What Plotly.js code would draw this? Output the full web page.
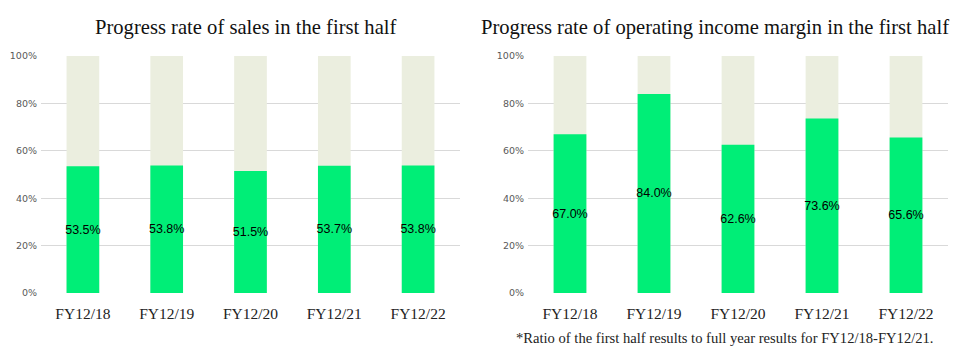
<!DOCTYPE html>
<html><head><meta charset="utf-8">
<script src="https://cdn.plot.ly/plotly-3.0.1.min.js"></script>
<style>html,body{margin:0;padding:0;background:#fff}#c{width:957px;height:355px}</style>
</head><body><div id="c"></div>
<script>
const categories = ['FY12/18','FY12/19','FY12/20','FY12/21','FY12/22'];
const salesRate = [0.535, 0.538, 0.515, 0.537, 0.538];
const incomeRate = [0.670, 0.840, 0.626, 0.736, 0.656];
const fullRate = [1, 1, 1, 1, 1];
const titleLeft = 'Progress rate of sales in the first half';
const titleRight = 'Progress rate of operating income margin in the first half';
const footnote = '*Ratio of the first half results to full year results for FY12/18-FY12/21.';

const GREEN = '#00EE77', BEIGE = '#EBEEDF';
function bg(xa, ya){return {type:'bar',x:categories,y:fullRate,xaxis:xa,yaxis:ya,marker:{color:BEIGE},width:0.39,hoverinfo:'skip',showlegend:false};}
function fg(vals, xa, ya){return {type:'bar',x:categories,y:vals,xaxis:xa,yaxis:ya,marker:{color:GREEN},width:0.39,
  texttemplate:'%{y:.1%}',textposition:'inside',insidetextanchor:'middle',textangle:0,constraintext:'none',
  textfont:{family:'Liberation Sans, Arial, sans-serif',size:12.5,color:'#000'},showlegend:false};}

const yb = 1-293/355, yt = 1-56/355;
const xax = d => ({domain:d,showgrid:false,zeroline:false,showline:false,ticks:'',ticklabelstandoff:9,
  tickfont:{family:'Liberation Serif, Times New Roman, serif',size:15.5,color:'#222'},fixedrange:true});
const yax = a => ({domain:[yb,yt],range:[0,1],tickvals:[0,0.2,0.4,0.6,0.8,1],tickformat:'.0%',
  showgrid:true,gridcolor:'#d9d9d9',gridwidth:1,zeroline:false,showline:false,ticks:'',anchor:a,ticklabelstandoff:3,
  tickfont:{family:'DejaVu Sans, sans-serif',size:9.5,color:'#595959'}});

const layout = {
  width:957,height:355,margin:{l:0,r:0,t:0,b:0},paper_bgcolor:'#fff',plot_bgcolor:'#fff',
  barmode:'overlay',bargap:0.6,
  xaxis:Object.assign(xax([41/957,460/957]),{anchor:'y'}),
  yaxis:yax('x'),
  xaxis2:Object.assign(xax([528/957,948/957]),{anchor:'y2'}),
  yaxis2:yax('x2'),
  annotations:[
    {text:titleLeft,xref:'paper',yref:'paper',x:245.5/957,y:1-27/355,xanchor:'center',yanchor:'middle',showarrow:false,
     font:{family:'Liberation Serif, Times New Roman, serif',size:20.6,color:'#111'}},
    {text:titleRight,xref:'paper',yref:'paper',x:714.5/957,y:1-27/355,xanchor:'center',yanchor:'middle',showarrow:false,
     font:{family:'Liberation Serif, Times New Roman, serif',size:20.6,color:'#111'}},
    {text:footnote,xref:'paper',yref:'paper',x:724/957,y:1-338/355,xanchor:'center',yanchor:'middle',showarrow:false,
     font:{family:'Liberation Serif, Times New Roman, serif',size:14.6,color:'#222'}}
  ]
};
Plotly.newPlot('c',[bg('x','y'),fg(salesRate,'x','y'),bg('x2','y2'),fg(incomeRate,'x2','y2')],layout,{staticPlot:true});
</script></body></html>
